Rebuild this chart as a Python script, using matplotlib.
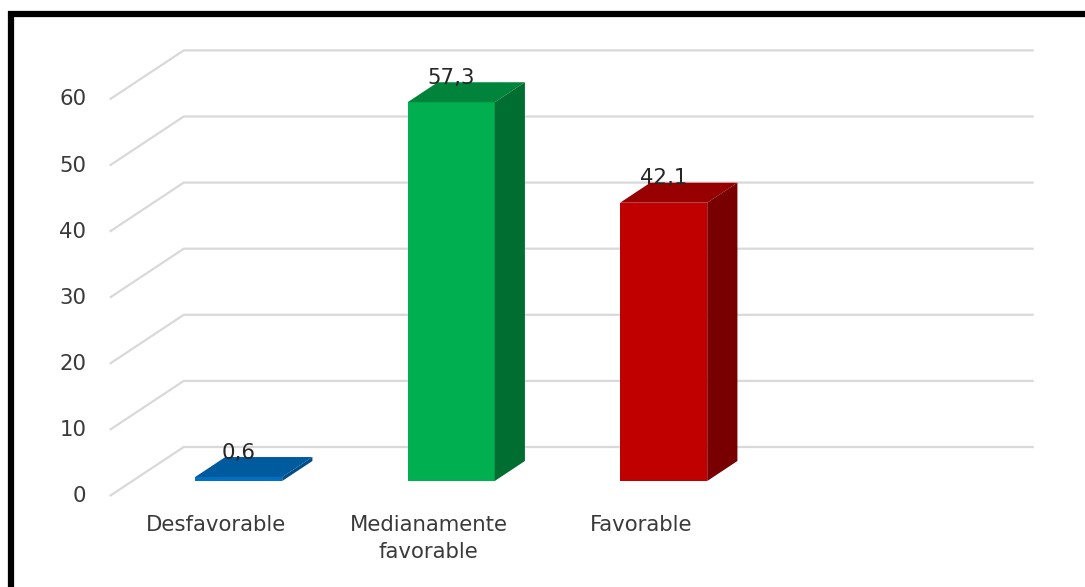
import matplotlib.pyplot as plt
from matplotlib.patches import Polygon
from matplotlib.lines import Line2D

# data
categories = ["Desfavorable", "Medianamente\nfavorable", "Favorable"]
values = [0.6, 57.3, 42.1]
labels = ["0,6", "57,3", "42,1"]
yticks = [0, 10, 20, 30, 40, 50, 60]

front_colors = ["#0070C0", "#00B050", "#C00000"]
top_colors = ["#005A9E", "#00843C", "#960000"]
side_colors = ["#004E88", "#006E30", "#780000"]

# layout (pixels, figure is 1085 x 587 at dpi 100)
W, H = 1085, 587
PX_X = 212.5      # pixels per category
PX_Y = 6.61       # pixels per unit of value
X0, Y0 = 216, 496  # category 0 / value 0 on the front plane
SLOPE = 1.51      # horizontal shift per vertical depth pixel
WALL_D = 49       # depth of back wall (px)
BAR_D0, BAR_D1 = 15, 35
BAR_W = 0.41
TXT = "#3A3A3A"
FS = 15.3


def depth(x, v, d):
    # move a point (category, value) back by d pixels of depth
    return x + d * SLOPE / PX_X, v + d / PX_Y


fig = plt.figure(figsize=(W / 100, H / 100), dpi=100)
ax = fig.add_axes([0, 0, 1, 1])
ax.set_xlim(-X0 / PX_X, (W - X0) / PX_X)
ax.set_ylim((Y0 - H) / PX_Y, Y0 / PX_Y)
ax.axis("off")

# gridlines: left wall diagonal + back wall
x_left, x_right = -0.5, 3.5
for t in yticks:
    p0 = depth(x_left, t, 0)
    p1 = depth(x_left, t, WALL_D)
    p2 = depth(x_right, t, WALL_D)
    ax.plot([p0[0], p1[0], p2[0]], [p0[1], p1[1], p2[1]],
            color="#D9D9D9", lw=1.6, zorder=1, solid_capstyle="butt")
    ax.text(x_left - 0.11, t, str(t), ha="right", va="center",
            fontsize=FS, color=TXT)

# bars
for i, v in enumerate(values):
    xl, xr = i - BAR_W / 2, i + BAR_W / 2
    fl = depth(xl, 0, BAR_D0)
    fr = depth(xr, 0, BAR_D0)
    tl = depth(xl, v, BAR_D0)
    tr = depth(xr, v, BAR_D0)
    btl = depth(xl, v, BAR_D1)
    btr = depth(xr, v, BAR_D1)
    bbr = depth(xr, 0, BAR_D1)
    ax.add_patch(Polygon([fl, fr, tr, tl], closed=True,
                         facecolor=front_colors[i], edgecolor="none", zorder=3))
    ax.add_patch(Polygon([tl, tr, btr, btl], closed=True,
                         facecolor=top_colors[i], edgecolor="none", zorder=3))
    ax.add_patch(Polygon([fr, bbr, btr, tr], closed=True,
                         facecolor=side_colors[i], edgecolor="none", zorder=3))
    lx, ly = depth(i, v, BAR_D0)
    ax.text(lx, ly + 3.7, labels[i], ha="center", va="center",
            fontsize=FS, color="#262626", zorder=4)
    ax.text(i, -2.9, categories[i], ha="center", va="top",
            fontsize=FS, color=TXT, linespacing=1.45)

# black frame (top and left edges)
fig.add_artist(Line2D([10.5 / W, 10.5 / W, 1], [0, 1 - 14 / H, 1 - 14 / H],
                      transform=fig.transFigure, color="black", lw=4.5,
                      solid_joinstyle="miter"))

fig.savefig("out.png", dpi=100, facecolor="white")
